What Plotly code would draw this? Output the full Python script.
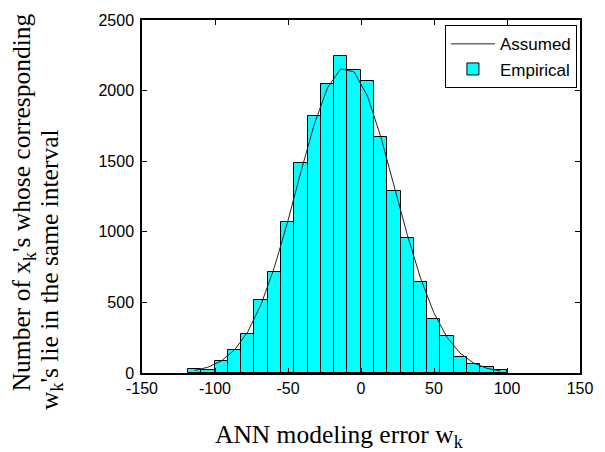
import plotly.graph_objects as go

# Bin centers (ANN modeling error w_k)
bin_centers = [-113.95, -104.85, -95.75, -86.65, -77.55, -68.45, -59.35, -50.25,
               -41.15, -32.05, -22.95, -13.85, -4.75, 4.35, 13.45, 22.55,
               31.65, 40.75, 49.85, 58.95, 68.05, 77.15, 86.25, 95.35]
bin_width = 9.1

# Empirical counts
empirical = [28, 23, 88, 164, 278, 514, 714, 1069,
             1488, 1821, 2047, 2242, 2147, 2068, 1670, 1291,
             957, 642, 383, 259, 110, 61, 39, 18]

# Assumed (Gaussian) curve read at bin centers
assumed = [18, 41, 85, 163, 292, 485, 748, 1070,
           1425, 1760, 2020, 2154, 2133, 1963, 1677, 1330,
           981, 672, 428, 252, 139, 71, 33, 15]

x_ticks = [-150, -100, -50, 0, 50, 100, 150]
y_ticks = [0, 500, 1000, 1500, 2000, 2500]

fig = go.Figure()
fig.add_trace(go.Bar(
    x=bin_centers, y=empirical, width=[bin_width] * len(bin_centers),
    name="Empirical", marker=dict(color="#00FFFF", line=dict(color="black", width=1)),
    legendrank=2,
))
fig.add_trace(go.Scatter(
    x=bin_centers, y=assumed, mode="lines", name="Assumed",
    line=dict(color="#222222", width=1), legendrank=1,
))

tickfont = dict(family="Liberation Sans, Arial", size=16, color="black")
fig.update_layout(
    width=605, height=452,
    margin=dict(l=142, r=18, t=14, b=79),
    paper_bgcolor="white", plot_bgcolor="white",
    bargap=0,
    showlegend=True,
    legend=dict(x=0.993, y=0.985, xanchor="right", yanchor="top",
                bgcolor="white", bordercolor="black", borderwidth=1,
                font=dict(family="Liberation Sans, Arial", size=17, color="black"),
                tracegroupgap=0, itemwidth=44),
    xaxis=dict(range=[-150, 150], tickvals=x_ticks, ticktext=[str(v) for v in x_ticks],
               ticks="inside", ticklen=5, tickcolor="black", showline=True,
               linecolor="black", linewidth=1.5, mirror="ticks", showgrid=False,
               zeroline=False, tickfont=tickfont, ticklabelstandoff=0),
    yaxis=dict(range=[0, 2500], tickvals=y_ticks, ticktext=[str(v) for v in y_ticks],
               ticks="inside", ticklen=5, tickcolor="black", showline=True,
               linecolor="black", linewidth=1.5, mirror="ticks", showgrid=False,
               zeroline=False, tickfont=tickfont, ticklabelstandoff=3),
)

titlefont = dict(family="Liberation Serif, Times New Roman", size=25.5, color="black")
fig.add_annotation(text="ANN modeling error w<sub>k</sub>", xref="paper", yref="paper",
                   x=0.4506, y=-0.1788, xanchor="center", yanchor="middle",
                   showarrow=False, font=titlefont)
fig.add_annotation(text="Number of x<sub>k</sub>'s whose corresponding", xref="paper", yref="paper",
                   x=-0.2697, y=0.4832, xanchor="center", yanchor="middle", textangle=-90,
                   showarrow=False, font=titlefont)
fig.add_annotation(text="w<sub>k</sub>'s lie in the same interval", xref="paper", yref="paper",
                   x=-0.2067, y=0.2933, xanchor="center", yanchor="middle", textangle=-90,
                   showarrow=False, font=titlefont)

fig.write_html("out.html")
